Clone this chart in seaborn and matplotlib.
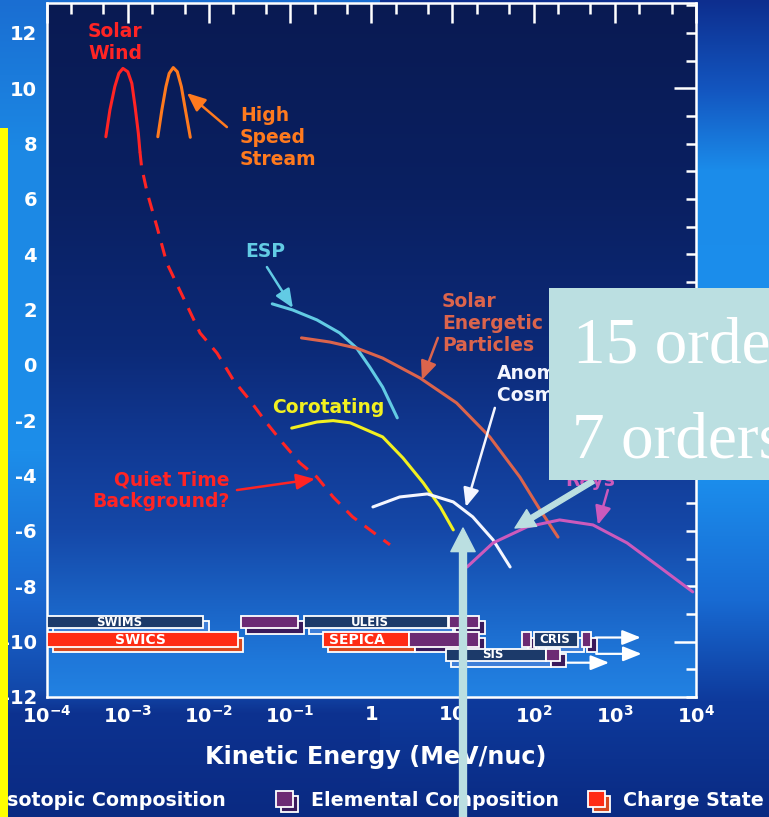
import numpy as np
import pandas as pd
import matplotlib
matplotlib.use("Agg")
import matplotlib.pyplot as plt
import matplotlib.transforms as mtransforms
from matplotlib.patches import Rectangle, FancyArrowPatch
from matplotlib.ticker import FixedLocator, FuncFormatter, NullFormatter
from matplotlib.colors import to_rgb
import seaborn as sns

# ---------------- data (log10 energy in MeV/nuc, log10 flux) ----------------
solar_wind_logE = [-3.27, -3.22, -3.16, -3.11, -3.06, -3.00, -2.95, -2.91, -2.87, -2.85]
solar_wind_flux = [8.25, 9.22, 10.06, 10.54, 10.72, 10.60, 10.18, 9.34, 8.38, 7.71]
hss_logE = [-2.63, -2.58, -2.53, -2.49, -2.44, -2.39, -2.34, -2.29, -2.23]
hss_flux = [8.25, 9.22, 10.06, 10.54, 10.75, 10.60, 10.06, 9.22, 8.23]
quiet_logE = [-2.85, -2.83, -2.76, -2.64, -2.52, -2.32, -2.11, -1.90, -1.70,
              -1.50, -1.29, -1.09, -0.88, -0.67, -0.47, -0.23, 0.23]
quiet_flux = [7.71, 7.16, 6.22, 4.99, 3.69, 2.46, 1.16, 0.43, -0.54,
              -1.26, -2.09, -2.82, -3.54, -4.05, -4.77, -5.49, -6.50]
esp_logE = [-1.22, -0.97, -0.67, -0.39, -0.18, -0.02, 0.14, 0.32]
esp_flux = [2.21, 1.99, 1.63, 1.16, 0.61, -0.07, -0.80, -1.91]
sep_logE = [-0.86, -0.51, -0.18, 0.14, 0.60, 1.05, 1.46, 1.83, 2.08, 2.30]
sep_flux = [0.98, 0.83, 0.61, 0.25, -0.47, -1.37, -2.60, -4.05, -5.24, -6.22]
corot_logE = [-0.98, -0.67, -0.47, -0.26, 0.14, 0.39, 0.64, 0.85, 1.01]
corot_flux = [-2.28, -2.06, -2.01, -2.09, -2.60, -3.36, -4.26, -5.13, -5.96]
acr_logE = [0.02, 0.35, 0.69, 1.01, 1.25, 1.50, 1.71]
acr_flux = [-5.13, -4.77, -4.66, -4.95, -5.49, -6.32, -7.30]
gcr_logE = [1.18, 1.50, 1.92, 2.32, 2.73, 3.15, 3.55, 3.96]
gcr_flux = [-7.30, -6.43, -5.85, -5.60, -5.78, -6.43, -7.30, -8.20]

# instrument coverage (log10 MeV/nuc)
inst_row = ["A", "A", "A", "A", "B", "B", "B", "B", "B", "B", "C", "C"]
inst_lo = [-3.99, -1.61, -0.83, 0.96, -3.99, -0.60, 0.47, 1.86, 2.00, 2.59, 0.92, 2.15]
inst_hi = [-2.07, -0.90, 0.94, 1.33, -1.64, 0.47, 1.33, 1.97, 2.55, 2.71, 2.15, 2.33]
inst_kind = ["iso", "elem", "iso", "elem", "charge", "charge", "elem", "elem", "iso", "elem", "iso", "elem"]
inst_label = ["SWIMS", "", "ULEIS", "", "SWICS", "SEPICA", "", "", "CRIS", "", "SIS", ""]
inst_label_logE = [-3.11, None, -0.02, None, -2.85, -0.18, None, None, 2.26, None, 1.50, None]
# open-ended coverage arrows: start, end, flux row
ext_start = [2.76, 2.77, 2.40]
ext_end = [3.32, 3.33, 2.93]
ext_y = [-9.85, -10.44, -10.76]

x_ticks_log = [-4, -3, -2, -1, 0, 1, 2, 3, 4]
x_tick_labels = [r"$\mathbf{10^{-4}}$", r"$\mathbf{10^{-3}}$", r"$\mathbf{10^{-2}}$",
                 r"$\mathbf{10^{-1}}$", r"$\mathbf{1}$", r"$\mathbf{10}$",
                 r"$\mathbf{10^{2}}$", r"$\mathbf{10^{3}}$", r"$\mathbf{10^{4}}$"]
legend_names = ["Isotopic Composition", "Elemental Composition", "Charge State"]

# ---------------- style ----------------
sns.set_theme(style="white")
plt.rcParams["font.family"] = ["DejaVu Sans"]
plt.rcParams["font.weight"] = "bold"
plt.rcParams["axes.labelweight"] = "bold"
plt.rcParams["axes.unicode_minus"] = False
plt.rcParams["mathtext.fontset"] = "dejavusans"

W, H, DPI = 769, 817, 100
fig = plt.figure(figsize=(W / DPI, H / DPI), dpi=DPI, facecolor="#1560c8")

RED = "#ff2424"
ORANGE = "#ff7a1e"
CYAN = "#62cbe4"
SALMON = "#dc644c"
YELLOW = "#f2f020"
WHITE = "#f4f6ff"
MAGENTA = "#cc5abc"
TEAL = "#bbdfe1"
kind_face = {"iso": "#1c3a6a", "elem": "#6c2a74", "charge": "#ff2c14"}
kind_shadow = {"iso": "#3f7fd8", "elem": "#3a1a5c", "charge": "#d8481e"}

# ---------------- background image ----------------
def profile(stops):
    ys = np.array([s[0] for s in stops], float)
    cols = np.array([to_rgb(s[1]) for s in stops])
    yy = np.arange(H)
    return np.stack([np.interp(yy, ys, cols[:, k]) for k in range(3)], axis=1)

left_p = profile([(0, "#1a6ed2"), (150, "#1c88e4"), (450, "#1d8eea"), (600, "#1a66cf"),
                  (690, "#1248aa"), (712, "#0d3290"), (817, "#0a2a82")])
right_p = profile([(0, "#0d2e8e"), (90, "#1356c0"), (170, "#1b8cea"), (470, "#1c90ee"),
                   (600, "#186ad2"), (700, "#0e3a9c"), (817, "#0a2a82")])
plot_p = profile([(0, "#091a52"), (200, "#0a2062"), (350, "#0c2a78"), (450, "#113a95"),
                  (530, "#1548a8"), (600, "#1a62c4"), (660, "#1f78da"), (697, "#2282e2")])
bg = np.zeros((H, W, 3))
bg[:, :380] = left_p[:, None, :]
bg[:, 380:] = right_p[:, None, :]
bg[3:697, 47:696] = plot_p[3:697, None, :]

ax_bg = fig.add_axes([0, 0, 1, 1], zorder=-5)
ax_bg.imshow(bg, extent=[0, W, H, 0], aspect="auto", interpolation="bilinear")
ax_bg.axis("off")

# ---------------- main axes ----------------
L, R, T, B = 46.6, 696.0, 3.0, 697.0
ax = fig.add_axes([L / W, 1 - B / H, (R - L) / W, (B - T) / H], zorder=1)
ax.set_facecolor("none")
ax.set_xscale("log")
ax.set_xlim(1e-4, 1e4)
ax.set_ylim(-12, 12 + (33 - T) / 27.67)

def E(lst):
    return 10.0 ** np.asarray(lst, float)

curves = [
    (solar_wind_logE, solar_wind_flux, RED, "-"),
    (quiet_logE, quiet_flux, RED, "--"),
    (hss_logE, hss_flux, ORANGE, "-"),
    (esp_logE, esp_flux, CYAN, "-"),
    (sep_logE, sep_flux, SALMON, "-"),
    (corot_logE, corot_flux, YELLOW, "-"),
    (acr_logE, acr_flux, WHITE, "-"),
    (gcr_logE, gcr_flux, MAGENTA, "-"),
]
for lx, fy, col, ls in curves:
    df = pd.DataFrame({"E": E(lx), "flux": fy})
    sns.lineplot(data=df, x="E", y="flux", sort=False, estimator=None, color=col,
                 lw=2.2, ax=ax, zorder=4)
    if ls == "--":
        ax.lines[-1].set_dashes([4.5, 3.2])

# instrument bars
row_center = {"A": -9.30, "B": -9.93, "C": -10.48}
row_height = {"A": 0.44, "B": 0.54, "C": 0.46}
shadow_tr = mtransforms.offset_copy(ax.transData, fig=fig, x=3.8, y=-3.8, units="points")
for r_i, row in enumerate(["A", "B", "C"]):
    base = 5 + 2 * r_i
    for i in range(len(inst_row)):
        if inst_row[i] != row:
            continue
        lo, hi, kind = E(inst_lo[i]), E(inst_hi[i]), inst_kind[i]
        ax.barh(row_center[row], hi - lo, left=lo, height=row_height[row],
                color=kind_shadow[kind], edgecolor="white", lw=1.3,
                transform=shadow_tr, zorder=base)
        ax.barh(row_center[row], hi - lo, left=lo, height=row_height[row],
                color=kind_face[kind], edgecolor="white", lw=1.3, zorder=base + 0.5)
        if inst_label[i]:
            fs = 10 if kind == "charge" else 8.5
            ax.text(E(inst_label_logE[i]), row_center[row], inst_label[i], color="white",
                    fontsize=fs, ha="center", va="center", zorder=base + 0.8)
for s, e, y in zip(ext_start, ext_end, ext_y):
    ax.annotate("", xy=(E(e), y), xytext=(E(s), y), zorder=12,
                arrowprops=dict(arrowstyle="-|>,head_length=0.8,head_width=0.32",
                                mutation_scale=14, color="white", lw=1.6,
                                shrinkA=0, shrinkB=0))

# labels and pointer arrows
labels = [
    ("Solar\nWind", -3.158, 11.66, RED, "center"),
    ("High\nSpeed\nStream", -1.618, 8.24, ORANGE, "left"),
    ("ESP", -1.557, 4.09, CYAN, "left"),
    ("Solar\nEnergetic\nParticles", 0.869, 1.50, SALMON, "left"),
    ("Anomalous\nCosmic Rays", 1.546, -0.70, WHITE, "left"),
    ("Galactic Cosmic\nRays", 2.384, -3.79, MAGENTA, "left"),
    ("Corotating", -1.224, -1.52, YELLOW, "left"),
    ("Quiet Time\nBackground?", -1.741, -4.55, RED, "right"),
]
for txt, lx, y, col, ha in labels:
    ax.text(E(lx), y, txt, color=col, fontsize=13.5, ha=ha, va="center",
            multialignment=ha, linespacing=1.2, zorder=6)
pointers = [
    (-1.779, 8.60, -2.271, 9.83, ORANGE),
    (-1.286, 3.54, -0.966, 2.06, CYAN),
    (0.820, 0.98, 0.623, -0.54, SALMON),
    (1.522, -1.55, 1.165, -5.13, WHITE),
    (2.914, -4.52, 2.791, -5.78, MAGENTA),
    (-1.655, -4.52, -0.695, -4.12, RED),
]
for tx, ty, hx, hy, col in pointers:
    ax.annotate("", xy=(E(hx), hy), xytext=(E(tx), ty), zorder=6,
                arrowprops=dict(arrowstyle="-|>,head_length=0.7,head_width=0.3",
                                mutation_scale=16, color=col, lw=1.8,
                                shrinkA=0, shrinkB=0))

# ticks / frame
ax.set_xticks(E(x_ticks_log), x_tick_labels)
minor_x = [m * 10.0 ** d for d in range(-4, 4) for m in (2, 5)]
ax.xaxis.set_minor_locator(FixedLocator(minor_x))
ax.xaxis.set_minor_formatter(NullFormatter())
ax.yaxis.set_major_locator(FixedLocator([-10, 0, 10]))
ax.yaxis.set_minor_locator(FixedLocator([v for v in range(-12, 14) if v not in (-10, 0, 10)]))
fmt = FuncFormatter(lambda v, p: f"{int(round(v))}" if int(round(v)) % 2 == 0 else "")
ax.yaxis.set_major_formatter(fmt)
ax.yaxis.set_minor_formatter(fmt)
ax.tick_params(axis="both", which="both", direction="in", colors="white", width=1.8,
               top=True, right=True, labelsize=14)
ax.tick_params(axis="x", which="major", length=14.4, pad=6)
ax.tick_params(axis="x", which="minor", length=8)
ax.tick_params(axis="y", which="major", length=16, pad=7)
ax.tick_params(axis="y", which="minor", length=7.2, pad=7)
for sp in ax.spines.values():
    sp.set_color("white")
    sp.set_linewidth(1.8)
ax.set_xlabel("Kinetic Energy (MeV/nuc)", color="white", fontsize=17.2,
              fontweight="bold", va="center")
ax.xaxis.set_label_coords((376 - L) / (R - L), -(757 - B) / (B - T))
ax.set_ylabel("")

# ---------------- slide overlay ----------------
ov = fig.add_axes([0, 0, 1, 1], zorder=10)
ov.set_xlim(0, W)
ov.set_ylim(H, 0)
ov.axis("off")
ov.patch.set_alpha(0)

# legend
LEG_FS = 13.7
ov.text(0.5, 801, legend_names[0], color="white", fontsize=LEG_FS, va="center", ha="left")
for x0, kind, name in [(276, "elem", legend_names[1]), (588, "charge", legend_names[2])]:
    ov.add_patch(Rectangle((x0 + 5, 796), 17, 16, fc=kind_shadow[kind], ec="white", lw=1.3))
    ov.add_patch(Rectangle((x0, 791), 17, 16, fc=kind_face[kind], ec="white", lw=1.3))
    ov.text(x0 + 35, 801, name, color="white", fontsize=LEG_FS, va="center", ha="left")

# text box and arrows
ov.add_patch(Rectangle((549, 288), 240, 192, fc=TEAL, ec="none", zorder=3))
ov.text(573, 362, "15 orders", color="white", fontsize=47, family="Liberation Serif",
        weight="normal", ha="left", va="baseline", zorder=4, clip_on=True)
ov.text(572, 457, "7 orders", color="white", fontsize=47, family="Liberation Serif",
        weight="normal", ha="left", va="baseline", zorder=4, clip_on=True)
ov.add_patch(FancyArrowPatch((593, 481), (515, 528), mutation_scale=10, color=TEAL,
                             arrowstyle="simple,tail_width=0.36,head_width=1.4,head_length=1.4",
                             shrinkA=0, shrinkB=0, zorder=5))
ov.add_patch(FancyArrowPatch((463, 830), (463, 528), mutation_scale=10, color=TEAL,
                             arrowstyle="simple,tail_width=0.5,head_width=1.75,head_length=1.7",
                             shrinkA=0, shrinkB=0, zorder=5))
# yellow strip at the left edge
ov.add_patch(Rectangle((0, 128), 8, 700, fc="#ffff00", ec="none", zorder=6))

fig.savefig("out.png", dpi=DPI)
